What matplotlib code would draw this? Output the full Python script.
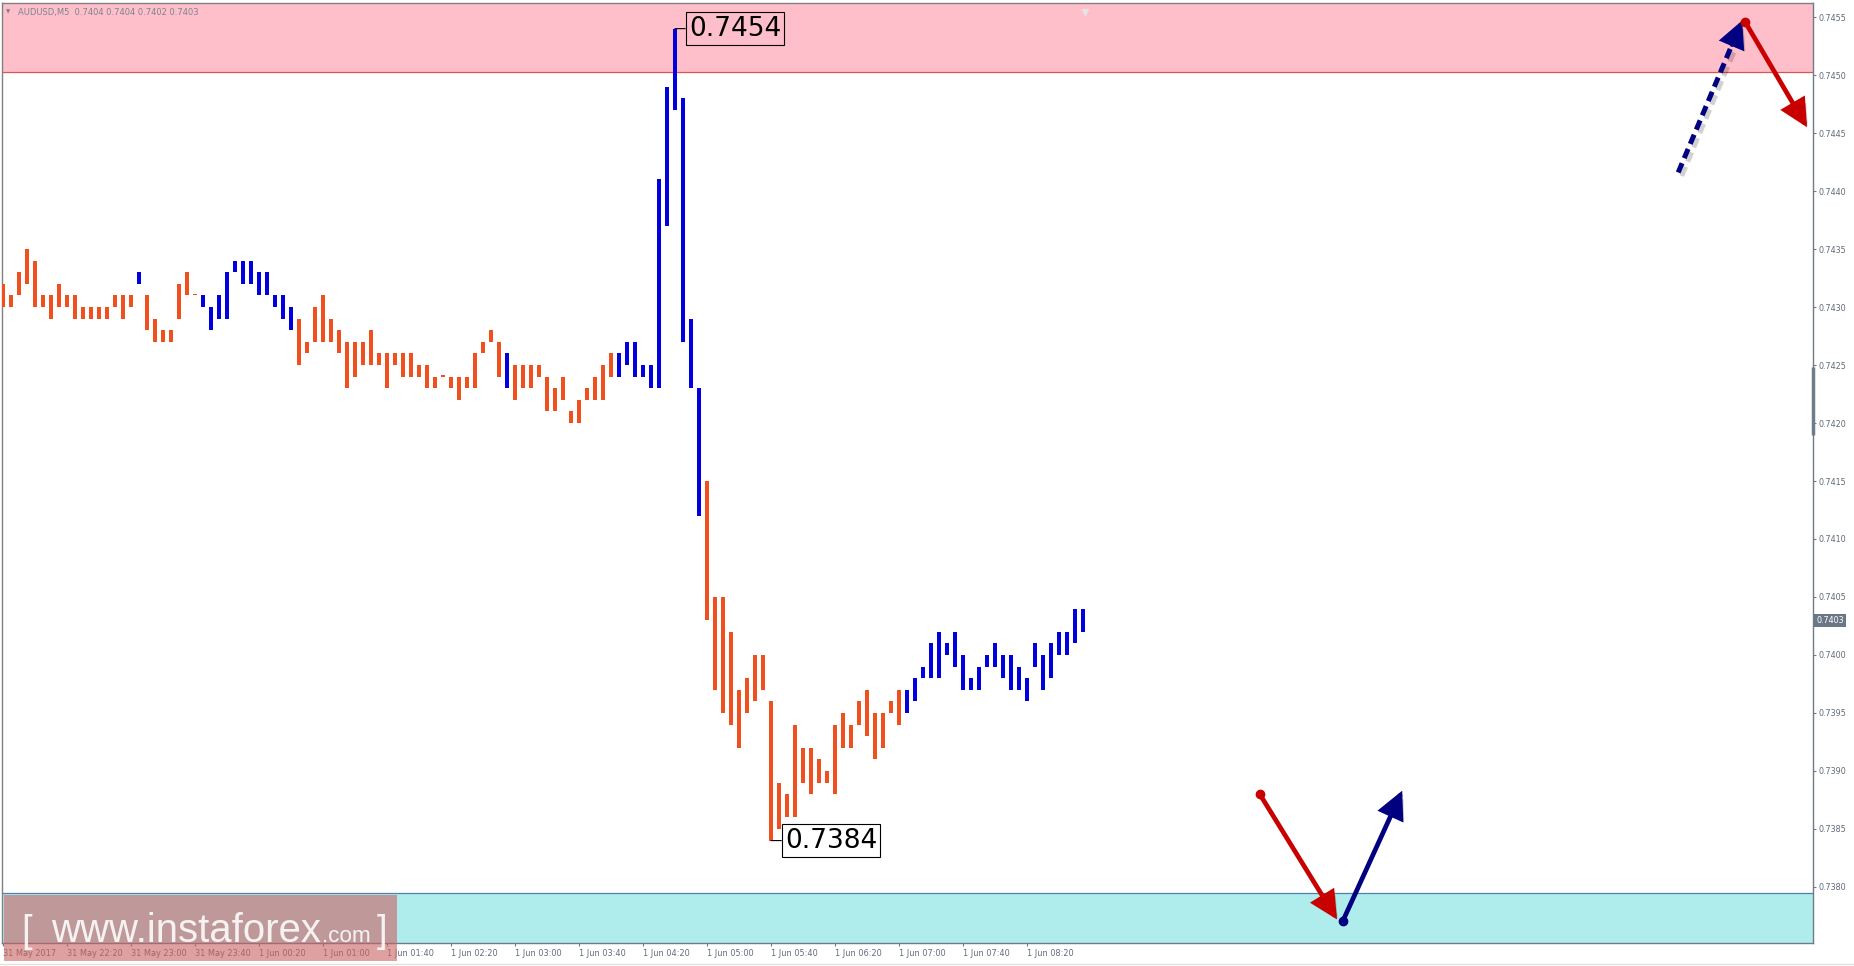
import matplotlib
matplotlib.use("Agg")
import matplotlib.pyplot as plt
import matplotlib.patheffects as pe
from matplotlib.patches import Rectangle
from matplotlib.lines import Line2D
from matplotlib import font_manager as fm
import numpy as np

W, H, DPI = 1854, 966, 100

# ---------------- data ----------------
symbol = "AUDUSD,M5"
last_open = 0.7404
last_close = 0.7403

bar_high = [
    0.7432, 0.7431, 0.7433, 0.7435, 0.7434, 0.7431, 0.7431, 0.7432, 0.7431, 0.7431,
    0.7430, 0.7430, 0.7430, 0.7430, 0.7431, 0.7431, 0.7431, 0.7433, 0.7431, 0.7429,
    0.7428, 0.7428, 0.7432, 0.7433, 0.7431, 0.7431, 0.7430, 0.7431, 0.7433, 0.7434,
    0.7434, 0.7434, 0.7433, 0.7433, 0.7431, 0.7431, 0.7430, 0.7429, 0.7427, 0.7430,
    0.7431, 0.7429, 0.7428, 0.7427, 0.7427, 0.7427, 0.7428, 0.7426, 0.7426, 0.7426,
    0.7426, 0.7426, 0.7425, 0.7425, 0.7424, 0.7424, 0.7424, 0.7424, 0.7424, 0.7426,
    0.7427, 0.7428, 0.7427, 0.7426, 0.7425, 0.7425, 0.7425, 0.7425, 0.7424, 0.7423,
    0.7424, 0.7421, 0.7422, 0.7423, 0.7424, 0.7425, 0.7426, 0.7426, 0.7427, 0.7427,
    0.7425, 0.7425, 0.7441, 0.7449, 0.7454, 0.7448, 0.7429, 0.7423, 0.7415, 0.7405,
    0.7405, 0.7402, 0.7397, 0.7398, 0.7400, 0.7400, 0.7396, 0.7389, 0.7388, 0.7394,
    0.7392, 0.7392, 0.7391, 0.7390, 0.7394, 0.7395, 0.7394, 0.7396, 0.7397, 0.7395,
    0.7395, 0.7396, 0.7397, 0.7397, 0.7398, 0.7399, 0.7401, 0.7402, 0.7401, 0.7402,
    0.7400, 0.7398, 0.7399, 0.7400, 0.7401, 0.7400, 0.7400, 0.7399, 0.7398, 0.7401,
    0.7400, 0.7401, 0.7402, 0.7402, 0.7404, 0.7404,
]
bar_low = [
    0.7430, 0.7430, 0.7431, 0.7432, 0.7430, 0.7430, 0.7429, 0.7430, 0.7430, 0.7429,
    0.7429, 0.7429, 0.7429, 0.7429, 0.7430, 0.7429, 0.7430, 0.7432, 0.7428, 0.7427,
    0.7427, 0.7427, 0.7429, 0.7431, 0.7431, 0.7430, 0.7428, 0.7429, 0.7429, 0.7433,
    0.7432, 0.7432, 0.7431, 0.7431, 0.7430, 0.7429, 0.7428, 0.7425, 0.7426, 0.7427,
    0.7427, 0.7427, 0.7426, 0.7423, 0.7424, 0.7425, 0.7425, 0.7425, 0.7423, 0.7425,
    0.7424, 0.7424, 0.7424, 0.7423, 0.7423, 0.7424, 0.7423, 0.7422, 0.7423, 0.7423,
    0.7426, 0.7427, 0.7424, 0.7423, 0.7422, 0.7423, 0.7423, 0.7424, 0.7421, 0.7421,
    0.7422, 0.7420, 0.7420, 0.7422, 0.7422, 0.7422, 0.7424, 0.7424, 0.7425, 0.7424,
    0.7424, 0.7423, 0.7423, 0.7437, 0.7447, 0.7427, 0.7423, 0.7412, 0.7403, 0.7397,
    0.7395, 0.7394, 0.7392, 0.7395, 0.7396, 0.7397, 0.7384, 0.7385, 0.7386, 0.7386,
    0.7389, 0.7388, 0.7389, 0.7389, 0.7388, 0.7392, 0.7392, 0.7394, 0.7393, 0.7391,
    0.7392, 0.7395, 0.7394, 0.7395, 0.7396, 0.7398, 0.7398, 0.7398, 0.7400, 0.7399,
    0.7397, 0.7397, 0.7397, 0.7399, 0.7399, 0.7398, 0.7397, 0.7397, 0.7396, 0.7399,
    0.7397, 0.7398, 0.7400, 0.7400, 0.7401, 0.7402,
]
# wave colour of each bar: o = orange (down wave), b = blue (up wave)
wave_color = ("o" * 17 + "b" + "o" * 7 + "b" * 12 + "o" * 26 + "b"
              + "o" * 13 + "b" * 11 + "o" * 25 + "b" * 23)

time_tick_bars = [0, 8, 16, 24, 32, 40, 48, 56, 64, 72, 80, 88, 96, 104, 112, 120, 128]
time_tick_labels = ["31 May 2017", "31 May 22:20", "31 May 23:00", "31 May 23:40",
                    "1 Jun 00:20", "1 Jun 01:00", "1 Jun 01:40", "1 Jun 02:20",
                    "1 Jun 03:00", "1 Jun 03:40", "1 Jun 04:20", "1 Jun 05:00",
                    "1 Jun 05:40", "1 Jun 06:20", "1 Jun 07:00", "1 Jun 07:40",
                    "1 Jun 08:20"]
price_ticks = [0.7380, 0.7385, 0.7390, 0.7395, 0.7400, 0.7405, 0.7410, 0.7415,
               0.7420, 0.7425, 0.7430, 0.7435, 0.7440, 0.7445, 0.7450, 0.7455]

resistance_zone = (0.74503, 0.7470)
support_zone = (0.7360, 0.73795)

# forecast arrows: (start bar, start price, end bar, end price, colour, dashed)
forecast_arrows = [
    (209.4, 0.74416, 217.4, 0.74547, "#000080", True),
    (217.75, 0.74546, 225.5, 0.74455, "#C80000", False),
    (157.1, 0.73880, 166.75, 0.73772, "#C80000", False),
    (167.5, 0.73771, 174.9, 0.73883, "#000080", False),
]

ORANGE = "#F0501E"
BLUE = "#0000E0"
GRAY_TXT = "#5F6B7A"
AXIS_COL = "#6E7C8A"

# ---------------- figure ----------------
fig = plt.figure(figsize=(W / DPI, H / DPI), dpi=DPI)
fig.patch.set_facecolor("white")
ax = fig.add_axes([2 / W, 1 - 943 / H, 1811 / W, 940 / H])
ax.set_facecolor("white")
ax.set_xlim(-0.125, 226.25)
ax.set_ylim(0.737517, 0.745621)

# zones
ax.axhspan(*resistance_zone, facecolor="#FFBFCA", edgecolor="none", zorder=0.5)
ax.axhline(resistance_zone[0], color="#D9534F", lw=0.9, zorder=0.6)
ax.axhspan(*support_zone, facecolor="#AFEDED", edgecolor="none", zorder=0.5)
ax.axhline(support_zone[1], color="#4F7FAF", lw=0.9, zorder=0.6)

# bars
hi = np.array(bar_high)
lo = np.array(bar_low)
x = np.arange(len(hi))
cols = [ORANGE if c == "o" else BLUE for c in wave_color]
ax.bar(x, np.maximum(hi - lo, 0.00001), bottom=lo, width=0.38, color=cols,
       linewidth=0, zorder=3)

# extreme labels
for idx, val in ((int(np.argmax(hi)), hi.max()), (int(np.argmin(lo)), lo.min())):
    ax.annotate(f"{val:.4f}", xy=(idx, val), xytext=(10.0, 0), textcoords="offset points",
                ha="left", va="center", fontsize=19, color="black", zorder=5,
                bbox=dict(boxstyle="square,pad=0.12", fc="none", ec="black", lw=0.8),
                arrowprops=dict(arrowstyle="-", color="black", lw=0.8,
                                shrinkA=0, shrinkB=0))

# forecast arrows
line_shadow = [pe.SimpleLineShadow(offset=(2.5, -2.5), shadow_color="black", alpha=0.18),
               pe.Normal()]
patch_shadow = [pe.SimplePatchShadow(offset=(2.5, -2.5), shadow_rgbFace="black", alpha=0.18),
                pe.Normal()]
astyle = "-|>,head_length=15,head_width=7.5"
for x0, y0, x1, y1, col, dashed in forecast_arrows:
    if dashed:
        f = 0.84
        xm, ym = x0 + f * (x1 - x0), y0 + f * (y1 - y0)
        ax.plot([x0, xm], [y0, ym], color=col, lw=3.6, ls=(0, (2.0, 1.1)),
                dash_capstyle="butt", zorder=6, path_effects=line_shadow)
        ax.annotate("", xy=(x1, y1), xytext=(xm, ym), zorder=6,
                    arrowprops=dict(arrowstyle=astyle, mutation_scale=1, color=col,
                                    lw=3.0, shrinkA=0, shrinkB=0, joinstyle="miter",
                                    path_effects=patch_shadow))
    else:
        ax.annotate("", xy=(x1, y1), xytext=(x0, y0), zorder=6,
                    arrowprops=dict(arrowstyle=astyle, mutation_scale=1, color=col,
                                    lw=3.4, shrinkA=0, shrinkB=0, joinstyle="miter",
                                    path_effects=patch_shadow))
        ax.plot([x0], [y0], "o", ms=6, color=col, zorder=7)

# axes styling
for s in ("left", "top"):
    ax.spines[s].set_color("#808080")
for s in ("right", "bottom"):
    ax.spines[s].set_color(AXIS_COL)
for s in ax.spines.values():
    s.set_linewidth(1.0)

ax.yaxis.tick_right()
ax.set_yticks(price_ticks)
ax.set_yticklabels([f"{p:.4f}" for p in price_ticks])
ax.tick_params(axis="y", which="both", right=True, left=False, direction="out",
               length=2, width=0.8, color=AXIS_COL, pad=2, labelsize=5.8,
               labelcolor=GRAY_TXT)
ax.set_xticks(time_tick_bars)
ax.set_xticklabels(time_tick_labels, ha="left")
ax.tick_params(axis="x", direction="out", length=2, width=0.8, color=AXIS_COL,
               pad=2, labelsize=5.9, labelcolor=GRAY_TXT)

# thicker scroll segment on the price axis
ax.plot([1, 1], [0.5404, 0.6128], transform=ax.transAxes, color=AXIS_COL, lw=2.5,
        clip_on=False, solid_capstyle="butt", zorder=8)

# chart shift marker
ax.plot([135.25], [0.99], transform=ax.get_xaxis_transform(), marker="v", ms=4,
        color="#E4E4E4", clip_on=False, zorder=8)

# current price label
ax.annotate(f"{last_close:.4f}", xy=(1, last_close), xycoords=("axes fraction", "data"),
            xytext=(2.5, 0), textcoords="offset points", ha="left", va="center",
            fontsize=5.8, color="white", annotation_clip=False,
            bbox=dict(boxstyle="square,pad=0.25", fc="#6B7786", ec="none"))

# header
fig.text(6 / W, 1 - 11.5 / H, "\u25BC", fontsize=4, color="#7A8592", va="center", ha="left")
fig.text(18 / W, 1 - 12 / H,
         f"{symbol}  {last_open:.4f} {hi[-1]:.4f} {lo[-1]:.4f} {last_close:.4f}",
         fontsize=6, color="#7A8592", va="center", ha="left")

# window bottom border
fig.add_artist(Line2D([0, 1], [1 - 963.5 / H] * 2, color="#E2E2E2", lw=1,
                      transform=fig.transFigure))

# watermark
fig.add_artist(Rectangle((4 / W, 1 - 961 / H), 393 / W, 66 / H, transform=fig.transFigure,
                         facecolor=(0.796, 0.38, 0.38), alpha=0.6, lw=0, zorder=10))
names = {f.name for f in fm.fontManager.ttflist}
wm_font = "Liberation Sans Narrow" if "Liberation Sans Narrow" in names else "Liberation Sans"
wm_kw = dict(color="white", alpha=0.88, va="baseline", ha="left", family=wm_font, zorder=11)
base = 1 - 942 / H
renderer = fig.canvas.get_renderer()

# fit main word to its width in the reference (about 269 px)
t_main = fig.text(51 / W, base, "www.instaforex", fontsize=30, **wm_kw)
w0 = t_main.get_window_extent(renderer).width
big = 30 * 269.0 / w0
t_main.set_fontsize(big)
small = big * 0.56
t_open = fig.text(21 / W, base, "[", fontsize=big * 0.95, **wm_kw)
main_right = t_main.get_window_extent(renderer).x1
t_com = fig.text((main_right + 1) / W, base, ".com", fontsize=small, **wm_kw)
com_right = t_com.get_window_extent(renderer).x1
fig.text((com_right + 6) / W, base, "]", fontsize=big * 0.95, **wm_kw)

fig.savefig("out.png", dpi=DPI, facecolor="white")
